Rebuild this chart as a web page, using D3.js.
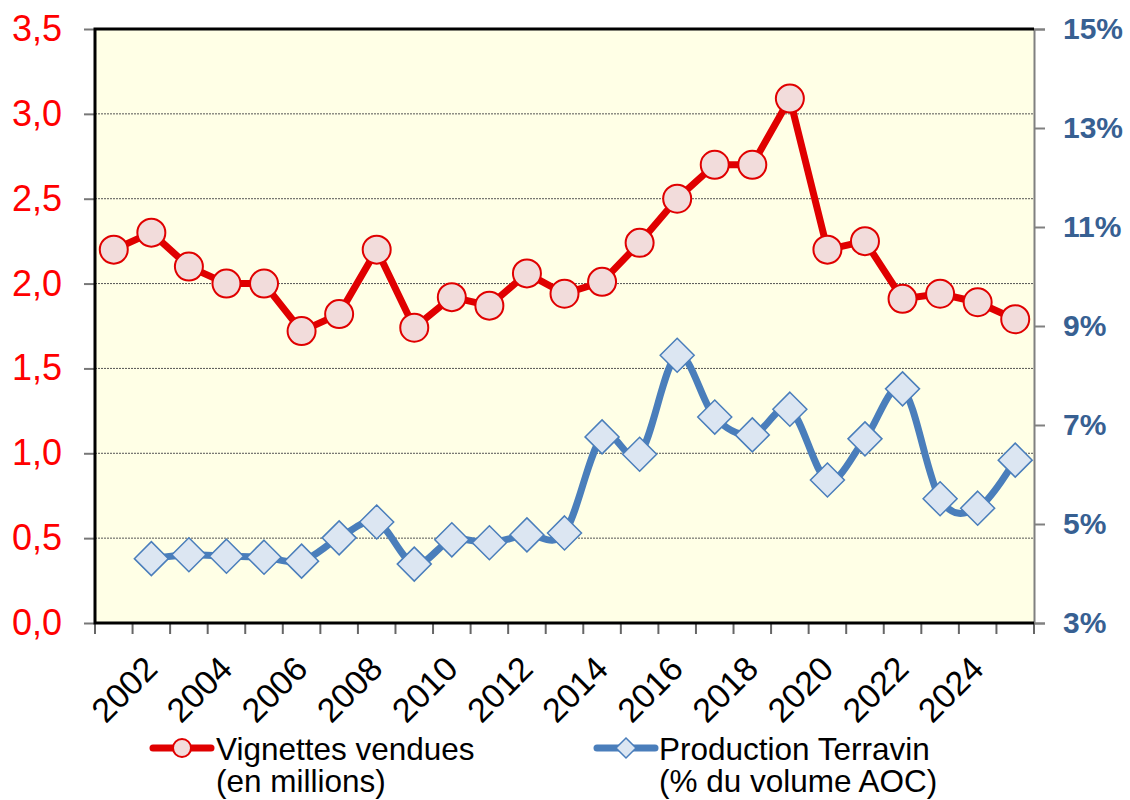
<!DOCTYPE html>
<html>
<head>
<meta charset="utf-8">
<script src="https://cdn.jsdelivr.net/npm/d3@7"></script>
<style>
  body { margin: 0; background: #fff; }
  svg { display: block; font-family: "Liberation Sans", Arial, sans-serif; }
</style>
</head>
<body>
<svg></svg>
<script>
// data
const years = d3.range(2001, 2026);
const vignettes = [2.2, 2.3, 2.1, 2.0, 2.0, 1.72, 1.82, 2.2, 1.74, 1.92, 1.87, 2.06, 1.94,
                   2.01, 2.24, 2.5, 2.7, 2.7, 3.09, 2.2, 2.25, 1.91, 1.94, 1.89, 1.79];
const production = [null, 4.3, 4.38, 4.35, 4.33, 4.25, 4.72, 5.04, 4.19, 4.68, 4.62, 4.78, 4.82,
                    6.76, 6.41, 8.41, 7.16, 6.8, 7.32, 5.89, 6.72, 7.73, 5.51, 5.32, 6.29];
const leftTicks = [0, 0.5, 1, 1.5, 2, 2.5, 3, 3.5];
const rightTicks = [3, 5, 7, 9, 11, 13, 15];
const labelYears = years.filter(y => y % 2 === 0);
const legendItems = [
    {lines: ['Vignettes vendues', '(en millions)'], key: 'red'},
    {lines: ['Production Terravin', '(% du volume AOC)'], key: 'blue'}
];

const size = {w: 1130, h: 800};
const plot = {l: 95, t: 29, r: 1034, b: 623};
const red = '#e00000', redFill = '#f2dcdb';
const blue = '#4a7ebb', blueFill = '#dce6f2';

const svg = d3.select('svg').attr('width', size.w).attr('height', size.h);

const x = d3.scaleBand().domain(years).range([plot.l, plot.r]).padding(0);
const yL = d3.scaleLinear().domain([0, 3.5]).range([plot.b, plot.t]);
const yR = d3.scaleLinear().domain([3, 15]).range([plot.b, plot.t]);
const cx = d => x(d) + x.bandwidth() / 2;

// plot background
svg.append('rect')
    .attr('x', plot.l).attr('y', plot.t)
    .attr('width', plot.r - plot.l).attr('height', plot.b - plot.t)
    .attr('fill', '#ffffe6');

// gridlines
svg.append('g').selectAll('line')
    .data(leftTicks.filter(v => v > 0 && v < 3.5))
    .join('line')
    .attr('x1', plot.l).attr('x2', plot.r)
    .attr('y1', d => yL(d)).attr('y2', d => yL(d))
    .attr('stroke', '#555').attr('stroke-width', 1)
    .attr('stroke-dasharray', '2,1');

// left axis
const leftAxis = svg.append('g')
    .attr('transform', `translate(${plot.l},0)`)
    .call(d3.axisLeft(yL).tickValues(leftTicks).tickSize(11).tickPadding(22)
        .tickFormat(d => d3.format('.1f')(d).replace('.', ',')));
leftAxis.select('.domain').remove();
leftAxis.selectAll('line').attr('stroke', '#777').attr('stroke-width', 2);
leftAxis.selectAll('text').attr('fill', '#ff0000').attr('font-size', 36)
    .attr('font-family', '"Liberation Sans", Arial, sans-serif');

// right axis
const rightAxis = svg.append('g')
    .attr('transform', `translate(${plot.r},0)`)
    .call(d3.axisRight(yR).tickValues(rightTicks).tickSize(11).tickPadding(18)
        .tickFormat(d => d + '%'));
rightAxis.select('.domain').attr('stroke', '#808080').attr('stroke-width', 2);
rightAxis.selectAll('line').attr('stroke', '#808080').attr('stroke-width', 2);
rightAxis.selectAll('text').attr('fill', '#376092').attr('font-size', 30)
    .attr('font-weight', 'bold')
    .attr('font-family', '"Liberation Sans", Arial, sans-serif');

// bottom ticks at category boundaries
const bounds = years.map(d => x(d)).concat([plot.r]);
svg.append('g').selectAll('line')
    .data(bounds)
    .join('line')
    .attr('x1', d => d).attr('x2', d => d)
    .attr('y1', plot.b).attr('y2', plot.b + 11)
    .attr('stroke', '#666').attr('stroke-width', 2);

// year labels, rotated
svg.append('g').selectAll('text')
    .data(labelYears)
    .join('text')
    .attr('transform', d => `translate(${cx(d) + 8},${plot.b + 48}) rotate(-45)`)
    .attr('text-anchor', 'end')
    .attr('font-size', 34)
    .attr('fill', '#000')
    .text(d => d);

// frame: black left, top, bottom
svg.append('path')
    .attr('d', `M${plot.r},${plot.t}H${plot.l}V${plot.b}H${plot.r}`)
    .attr('fill', 'none').attr('stroke', '#000').attr('stroke-width', 3);

// red series: straight line + circles
const redData = years.map((y, i) => ({year: y, v: vignettes[i]}));
svg.append('path')
    .datum(redData)
    .attr('fill', 'none').attr('stroke', red).attr('stroke-width', 7)
    .attr('stroke-linejoin', 'round')
    .attr('d', d3.line().x(d => cx(d.year)).y(d => yL(d.v)));
svg.append('g').selectAll('circle')
    .data(redData)
    .join('circle')
    .attr('cx', d => cx(d.year)).attr('cy', d => yL(d.v)).attr('r', 14)
    .attr('fill', redFill).attr('stroke', red).attr('stroke-width', 2);

// blue series: smoothed line + diamonds
const blueData = years.map((y, i) => ({year: y, v: production[i]})).filter(d => d.v != null);
svg.append('path')
    .datum(blueData)
    .attr('fill', 'none').attr('stroke', blue).attr('stroke-width', 7)
    .attr('d', d3.line().curve(d3.curveCardinal.tension(0))
        .x(d => cx(d.year)).y(d => yR(d.v)));
const diamond = s => `M0,${-s}L${s},0L0,${s}L${-s},0Z`;
svg.append('g').selectAll('path')
    .data(blueData)
    .join('path')
    .attr('transform', d => `translate(${cx(d.year)},${yR(d.v)})`)
    .attr('d', diamond(17))
    .attr('fill', blueFill).attr('stroke', blue).attr('stroke-width', 1.5);

// legend
const legendPos = [{x: 153, text: 216}, {x: 597, text: 659}];
const legendY = 748;
legendItems.forEach((item, i) => {
    const p = legendPos[i];
    const g = svg.append('g');
    const col = item.key === 'red' ? red : blue;
    g.append('line')
        .attr('x1', p.x).attr('x2', p.x + 58)
        .attr('y1', legendY).attr('y2', legendY)
        .attr('stroke', col).attr('stroke-width', 7).attr('stroke-linecap', 'round');
    if (item.key === 'red') {
        g.append('circle').attr('cx', p.x + 29).attr('cy', legendY).attr('r', 9)
            .attr('fill', redFill).attr('stroke', red).attr('stroke-width', 2);
    } else {
        g.append('path').attr('transform', `translate(${p.x + 29},${legendY})`)
            .attr('d', diamond(10))
            .attr('fill', blueFill).attr('stroke', blue).attr('stroke-width', 1.5);
    }
    g.selectAll('text')
        .data(item.lines)
        .join('text')
        .attr('x', p.text)
        .attr('y', (d, j) => legendY + 12 + j * 32)
        .attr('font-size', 31.5)
        .attr('fill', '#000')
        .text(d => d);
});
</script>
</body>
</html>
